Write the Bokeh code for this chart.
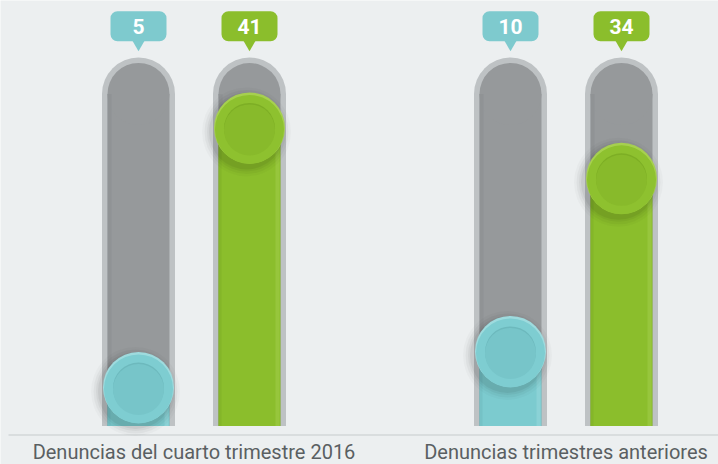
from bokeh.plotting import figure
from bokeh.models import Range1d
from bokeh.core.properties import value
from bokeh.embed import file_html
from bokeh.resources import INLINE

# ---------------- data ----------------
categories = ["Denuncias del cuarto trimestre 2016", "Denuncias trimestres anteriores"]
teal_values = [5, 10]
green_values = [41, 34]
scale_max = 50

# ---------------- layout / style ----------------
W, H = 718, 464
X_START, X_END = 0, 718
GROUP_CENTERS = [193.5, 565.5]
BAR_OFFSET = 55.5
PPU = 7.21                       # pixels per value unit
ZERO_PX = 423.0                  # pixel row of value 0
Y_START = (ZERO_PX - H) / PPU
Y_END = ZERO_PX / PPU

BG = "#ECEFF0"
TRACK_OUT = "#BEC2C4"
TRACK_IN = "#96999B"
TEXT_COL = "#5A5F62"

STYLE = {
    "teal": dict(fill="#7CCBCF", rim="#7ECDD1", light="#9EDBDE", inner="#77C5C9",
                 dark="#6DB9BD", box="#7ECACE"),
    "green": dict(fill="#8BBE2C", rim="#8EC12F", light="#A6D04F", inner="#88BA2B",
                  dark="#7DAE25", box="#8BBE2C"),
}

OUT_W, IN_W = 73, 62
KNOB_D, KNOB_IN_D = 71, 51
BASE = -2.5 / PPU
CAP_Y = scale_max - (IN_W / 2) / PPU
LABEL_Y = (ZERO_PX - 25.75) / PPU
POINTER_Y = LABEL_Y - 17.5 / PPU
BASELINE_Y = (ZERO_PX - 434.5) / PPU
CAT_Y = (ZERO_PX - 451.5) / PPU
LINE_X0 = 8

p = figure(width=W, height=H, output_backend="svg", toolbar_location=None,
           x_range=Range1d(X_START, X_END), y_range=Range1d(Y_START, Y_END),
           x_axis_location=None, y_axis_location=None, title=None, min_border=0)
p.background_fill_color = BG
p.border_fill_color = BG
p.outline_line_color = None
p.xgrid.visible = False
p.ygrid.visible = False

bars = []
for gi, gc in enumerate(GROUP_CENTERS):
    bars.append((gc - BAR_OFFSET, teal_values[gi], "teal"))
    bars.append((gc + BAR_OFFSET, green_values[gi], "green"))

xs = [b[0] for b in bars]
vals = [b[1] for b in bars]
styles = [STYLE[b[2]] for b in bars]

# baseline
p.segment(x0=[LINE_X0], x1=[X_END], y0=[BASELINE_Y], y1=[BASELINE_Y],
          line_color="#D3D7D9", line_width=1.5)

# tracks
p.vbar(x=xs, bottom=BASE, top=CAP_Y, width=OUT_W, color=TRACK_OUT, line_color=None)
p.scatter(x=xs, y=[CAP_Y] * len(xs), size=OUT_W, color=TRACK_OUT, line_color=None)
p.vbar(x=xs, bottom=BASE, top=CAP_Y, width=IN_W, color=TRACK_IN, line_color=None)
p.scatter(x=xs, y=[CAP_Y] * len(xs), size=IN_W, color=TRACK_IN, line_color=None)
p.vbar(x=[x - IN_W / 2 + 2 for x in xs], bottom=BASE, top=CAP_Y, width=4,
       color="#8A8D8F", line_color=None, alpha=0.5)

# fills
p.vbar(x=xs, bottom=BASE, top=vals, width=IN_W, color=[s["fill"] for s in styles], line_color=None)
p.vbar(x=[x - IN_W / 2 + 1.5 for x in xs], bottom=BASE, top=vals, width=3,
       color=[s["dark"] for s in styles], line_color=None, alpha=0.5)
p.vbar(x=[x + IN_W / 2 - 3 for x in xs], bottom=BASE, top=vals, width=4,
       color=[s["light"] for s in styles], line_color=None, alpha=0.45)

# knob shadows
for k, a in [(18, 0.025), (13, 0.035), (8, 0.045), (4, 0.055)]:
    p.scatter(x=[x - 3 for x in xs], y=[v - 4 / PPU for v in vals], size=KNOB_D + k,
              color="black", alpha=a, line_color=None)

# knobs
p.scatter(x=xs, y=vals, size=KNOB_D, color=[s["light"] for s in styles], line_color=None)
p.scatter(x=xs, y=[v - 1.5 / PPU for v in vals], size=KNOB_D - 2,
          color=[s["rim"] for s in styles], line_color=None)
p.scatter(x=xs, y=[v - 0.5 / PPU for v in vals], size=KNOB_IN_D,
          color=[s["dark"] for s in styles], line_color=None)
p.scatter(x=xs, y=[v - 2.0 / PPU for v in vals], size=KNOB_IN_D,
          color=[s["inner"] for s in styles], line_color=None)

# callouts
box_cols = [s["box"] for s in styles]
p.scatter(x=xs, y=[POINTER_Y] * len(xs), marker="inverted_triangle", size=13,
          color=box_cols, line_color=None)
p.rect(x=xs, y=[LABEL_Y] * len(xs), width=56, height=30, height_units="screen",
       color=box_cols, line_color=None, border_radius=7)
p.text(x=xs, y=[LABEL_Y] * len(xs), text=[str(v) for v in vals], text_color="white",
       text_font=value("Roboto"), text_font_style="bold", text_font_size="21px",
       text_align="center", text_baseline="middle")

# category labels
p.text(x=GROUP_CENTERS, y=[CAT_Y] * 2, text=categories,
       text_color=TEXT_COL, text_font=value("Roboto"), text_font_size="20px",
       text_align="center", text_baseline="middle")

open("out.html", "w").write(file_html(p, INLINE))
